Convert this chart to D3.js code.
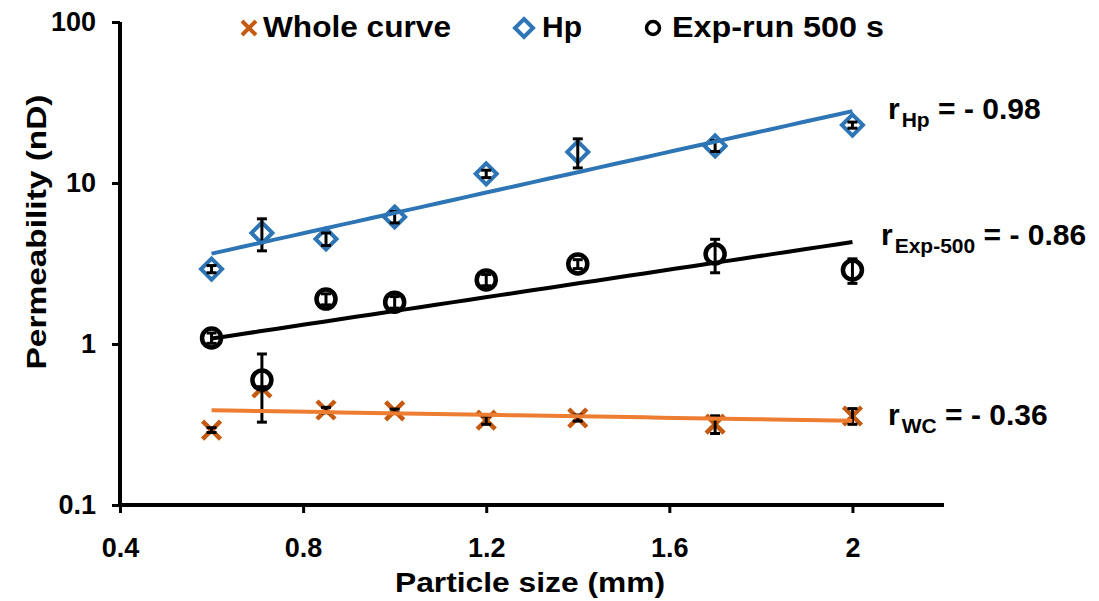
<!DOCTYPE html>
<html><head><meta charset="utf-8">
<script src="https://cdn.jsdelivr.net/npm/d3@7"></script>
<style>body{margin:0;background:#fff;} text{font-family:"Liberation Sans",Arial,sans-serif;font-weight:bold;}</style>
</head><body><svg id="c" width="1099" height="601"></svg>
<script>
const sizes = [0.6, 0.71, 0.85, 1.0, 1.2, 1.4, 1.7, 2.0];
const wcValues = [0.292, 0.533, 0.389, 0.384, 0.337, 0.347, 0.318, 0.357];
const wcErrors = [0.01, 0.01, 0.015, 0.01, 0.02, 0.015, 0.04, 0.04];
const hpValues = [2.92, 4.89, 4.49, 6.15, 11.4, 15.6, 17.0, 22.9];
const hpErrors = [0.15, 1.1, 0.4, 0.5, 0.6, 3.2, 1.3, 1.0];
const expValues = [1.09, 0.597, 1.90, 1.82, 2.50, 3.14, 3.62, 2.88];
const expErrors = [0.08, 0.27, 0.15, 0.15, 0.2, 0.2, 0.85, 0.5];
const xTicks = [0.4, 0.8, 1.2, 1.6, 2];
const yTicks = [0.1, 1, 10, 100];
const legendLabels = ["Whole curve", "Hp", "Exp-run 500 s"];
const rLabels = [["Hp", " = - 0.98"], ["Exp-500", " = - 0.86"], ["WC", " = - 0.36"]];

const svg = d3.select("#c");
const x = d3.scaleLinear().domain([0.4, 2.2]).range([120, 944]);
const y = d3.scaleLog().domain([0.1, 100]).range([505, 22]);

// axes
const minor = [];
[0.1, 1, 10].forEach(b => { for (let k = 2; k <= 9; k++) minor.push(b * k); });
const gy = svg.append("g").attr("transform", "translate(120,0)");
gy.call(d3.axisLeft(y).tickValues(minor).tickSize(5).tickFormat(""));
gy.call(d3.axisLeft(y).tickValues(yTicks).tickSize(8).tickPadding(16).tickFormat(d => d < 1 ? "0.1" : String(d)));
const gx = svg.append("g").attr("transform", "translate(0,505)");
gx.call(d3.axisBottom(x).tickValues(xTicks).tickSize(8).tickPadding(25).tickFormat(d => String(d)));
[gx, gy].forEach(g => {
  g.selectAll(".domain").attr("stroke", "#000").attr("stroke-width", 4);
  g.selectAll(".tick line").attr("stroke", "#000").attr("stroke-width", 3);
  g.selectAll("text").attr("font-size", 27).attr("fill", "#000").attr("font-family", "'Liberation Sans',Arial,sans-serif").attr("font-weight", "bold");
});
gx.select(".domain").attr("d", "M118,0H944");
gy.select(".domain").attr("d", "M0,22V507");

// axis titles
svg.append("text").attr("transform", "translate(46,232) rotate(-90)").attr("text-anchor", "middle")
  .attr("font-size", 28).attr("textLength", 275).attr("lengthAdjust", "spacingAndGlyphs").text("Permeability (nD)");
svg.append("text").attr("x", 530).attr("y", 592).attr("text-anchor", "middle")
  .attr("font-size", 28).attr("textLength", 270).attr("lengthAdjust", "spacingAndGlyphs").text("Particle size (mm)");

// trend lines (exponential least-squares fits)
function expFit(xs, ys) {
  const ly = ys.map(v => Math.log(v));
  const mx = d3.mean(xs), my = d3.mean(ly);
  let sxy = 0, sxx = 0;
  xs.forEach((xv, i) => { sxy += (xv - mx) * (ly[i] - my); sxx += (xv - mx) ** 2; });
  const b = sxy / sxx, a = my - b * mx;
  return xv => Math.exp(a + b * xv);
}
const xs0 = d3.min(sizes), xs1 = d3.max(sizes);
const fitPts = d3.range(0, 41).map(i => xs0 + (xs1 - xs0) * i / 40);
const line = d3.line().x(d => x(d[0])).y(d => y(d[1]));

// markers
const wcColor = "#c55a11", hpColor = "#2e75b6";
const wc = sizes.map((s, i) => ({s, v: wcValues[i], e: wcErrors[i]}));
const hp = sizes.map((s, i) => ({s, v: hpValues[i], e: hpErrors[i]}));
const ex = sizes.map((s, i) => ({s, v: expValues[i], e: expErrors[i]}));

function drawX(g, cx, cy, h, color, w) {
  g.append("path").attr("d", `M${cx-h},${cy-h}L${cx+h},${cy+h}M${cx-h},${cy+h}L${cx+h},${cy-h}`)
    .attr("stroke", color).attr("stroke-width", w).attr("fill", "none");
}
const gm = svg.append("g");
wc.forEach(d => drawX(gm, x(d.s), y(d.v), 9, wcColor, 4.5));
gm.selectAll(".hp").data(hp).enter().append("path")
  .attr("d", d => { const cx = x(d.s), cy = y(d.v), h = 10.5; return `M${cx},${cy-h}L${cx+h},${cy}L${cx},${cy+h}L${cx-h},${cy}Z`; })
  .attr("fill", "#fff").attr("stroke", hpColor).attr("stroke-width", 4);
gm.selectAll(".ex").data(ex).enter().append("circle")
  .attr("cx", d => x(d.s)).attr("cy", d => y(d.v)).attr("r", 9.5)
  .attr("fill", "#fff").attr("stroke", "#000").attr("stroke-width", 4.5);

// error bars
const ge = svg.append("g").attr("stroke", "#000").attr("stroke-width", 3);
[wc, hp, ex].forEach(ser => ser.forEach(d => {
  const cx = x(d.s), y1 = y(d.v + d.e), y2 = y(Math.max(d.v - d.e, 0.101));
  ge.append("line").attr("x1", cx).attr("x2", cx).attr("y1", y1).attr("y2", y2);
  ge.append("line").attr("x1", cx - 5).attr("x2", cx + 5).attr("y1", y1).attr("y2", y1);
  ge.append("line").attr("x1", cx - 5).attr("x2", cx + 5).attr("y1", y2).attr("y2", y2);
}));

// trend lines
[[wcValues, "#ed7d31"], [hpValues, hpColor], [expValues, "#000"]].forEach(([vals, col]) => {
  const f = expFit(sizes, vals);
  svg.append("path").datum(fitPts.map(p => [p, f(p)])).attr("d", line)
    .attr("fill", "none").attr("stroke", col).attr("stroke-width", 4);
});

// legend
const lg = svg.append("g");
drawX(lg, 249, 28, 7, wcColor, 4);
lg.append("path").attr("d", "M524,19L533,28L524,37L515,28Z").attr("fill", "#fff").attr("stroke", hpColor).attr("stroke-width", 4);
lg.append("circle").attr("cx", 653).attr("cy", 28).attr("r", 6.5).attr("fill", "#fff").attr("stroke", "#000").attr("stroke-width", 3.5);
const lx = [263, 542, 672], lw = [188, 40, 212];
legendLabels.forEach((t, i) => lg.append("text").attr("x", lx[i]).attr("y", 37).attr("font-size", 29)
  .attr("textLength", lw[i]).attr("lengthAdjust", "spacingAndGlyphs").text(t));

// r annotations
const rpos = [[888, 119], [881, 245], [888, 425]];
rLabels.forEach((r, i) => {
  const t = svg.append("text").attr("x", rpos[i][0]).attr("y", rpos[i][1]).attr("font-size", 30);
  t.append("tspan").text("r");
  t.append("tspan").attr("font-size", 21).attr("dy", 8).attr("dx", 2).text(r[0]);
  t.append("tspan").attr("dy", -8).text(r[1]);
});
</script></body></html>
